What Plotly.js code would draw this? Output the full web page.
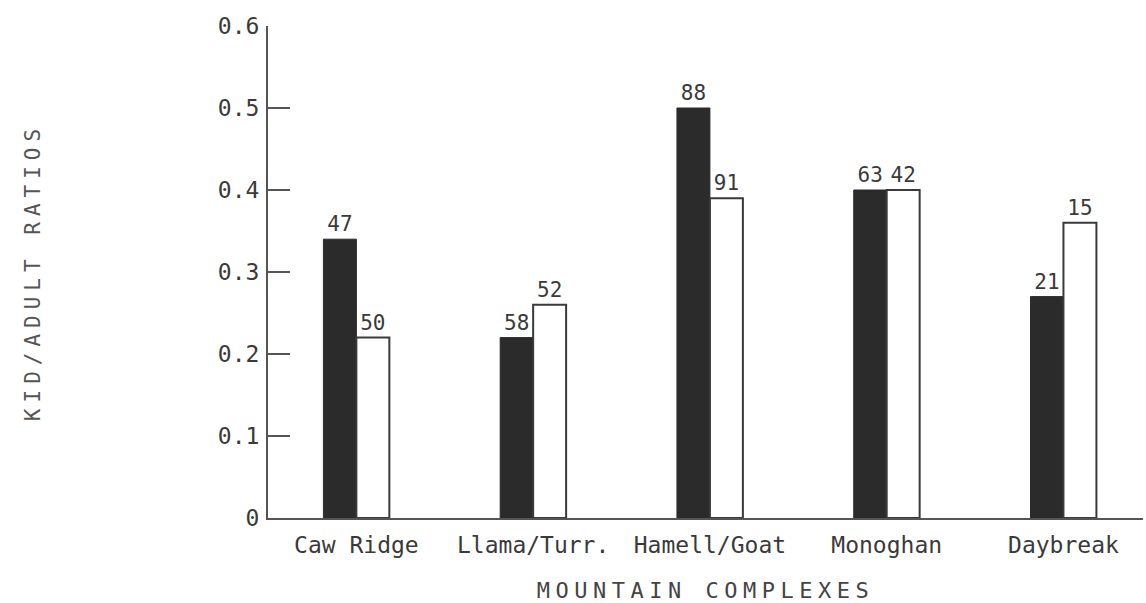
<!DOCTYPE html>
<html>
<head>
<meta charset="utf-8">
<script src="https://cdn.plot.ly/plotly-3.0.1.min.js"></script>
<style>
html,body{margin:0;padding:0;background:#fff;}
#chart{width:1146px;height:603px;}
.xtitle{letter-spacing:5.5px;}
.ytitle{letter-spacing:6px;}
</style>
</head>
<body>
<div id="chart"></div>
<script>
const categories = ["Caw Ridge", "Llama/Turr.", "Hamell/Goat", "Monoghan", "Daybreak"];
const darkValues = [0.34, 0.22, 0.50, 0.40, 0.27];
const darkCounts = ["47", "58", "88", "63", "21"];
const whiteValues = [0.22, 0.26, 0.39, 0.40, 0.36];
const whiteCounts = ["50", "52", "91", "42", "15"];
const yTicks = [0, 0.1, 0.2, 0.3, 0.4, 0.5, 0.6];
const yTickLabels = ["0", "0.1", "0.2", "0.3", "0.4", "0.5", "0.6"];

const FONT = "DejaVu Sans Mono, Liberation Mono, monospace";
const INK = "#3a3a3a";

const traces = [
  {
    type: "bar", x: categories, y: darkValues, text: darkCounts,
    textposition: "outside", cliponaxis: false,
    textfont: {family: FONT, size: 21, color: INK},
    marker: {color: "#2b2b2b", line: {color: "#2b2b2b", width: 1}},
    showlegend: false, hoverinfo: "skip"
  },
  {
    type: "bar", x: categories, y: whiteValues, text: whiteCounts,
    textposition: "outside", cliponaxis: false,
    textfont: {family: FONT, size: 21, color: INK},
    marker: {color: "#ffffff", line: {color: "#3a3a3a", width: 2}},
    showlegend: false, hoverinfo: "skip"
  }
];

const layout = {
  width: 1146, height: 603,
  margin: {l: 268, r: 3, t: 26, b: 85},
  paper_bgcolor: "#ffffff", plot_bgcolor: "#ffffff",
  barmode: "group", bargap: 0.627, bargroupgap: 0,
  font: {family: FONT, color: INK},
  xaxis: {
    type: "category", range: [-0.5, 4.45],
    showline: true, linecolor: "#555", linewidth: 2,
    showgrid: false, zeroline: false, ticks: "",
    ticklabelstandoff: 5,
    tickfont: {family: FONT, size: 23, color: INK},
    title: {text: "MOUNTAIN COMPLEXES", font: {family: FONT, size: 22, color: "#444"}, standoff: 28}
  },
  yaxis: {
    range: [0, 0.6], tickvals: yTicks, ticktext: yTickLabels,
    showline: true, linecolor: "#555", linewidth: 2,
    showgrid: false, zeroline: false,
    ticks: "inside", ticklen: 22, tickwidth: 2, tickcolor: "#555",
    ticklabelstandoff: 2,
    tickfont: {family: FONT, size: 23, color: INK},
    title: {text: "KID/ADULT RATIOS", font: {family: FONT, size: 21, color: "#555"}, standoff: 172}
  }
};

Plotly.newPlot("chart", traces, layout, {staticPlot: true, displayModeBar: false});
</script>
</body>
</html>
